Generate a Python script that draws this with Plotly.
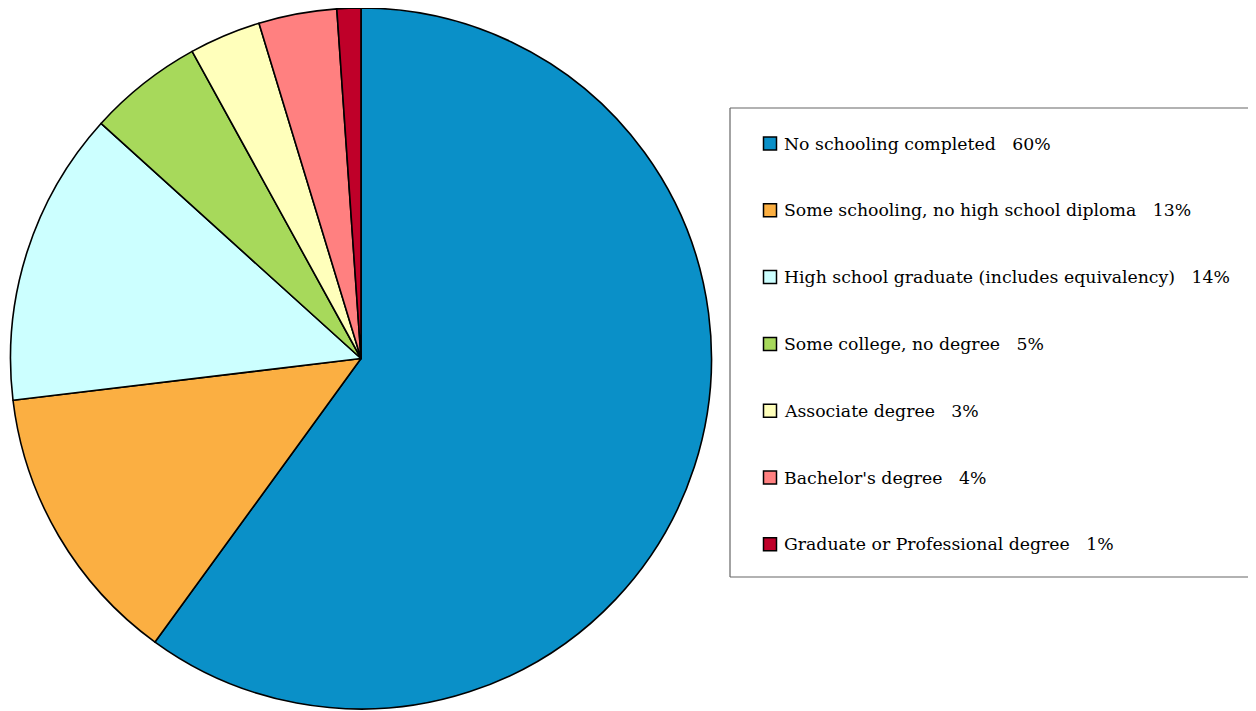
import plotly.graph_objects as go

W, H = 1256, 711

categories = [
    "No schooling completed",
    "Some schooling, no high school diploma",
    "High school graduate (includes equivalency)",
    "Some college, no degree",
    "Associate degree",
    "Bachelor's degree",
    "Graduate or Professional degree",
]
values = [60.0, 13.1, 13.6, 5.3, 3.3, 3.6, 1.1]
pct_labels = ["60%", "13%", "14%", "5%", "3%", "4%", "1%"]
colors = ["#0A90C8", "#FBAF42", "#CCFFFF", "#A7D95B", "#FFFFBB", "#FF8080", "#BF0029"]

# pie geometry (figure pixels; page adds an 8px body margin)
cx, cy, r = 353, 350.5, 350.5

fig = go.Figure()
fig.add_trace(go.Pie(
    labels=categories,
    values=values,
    sort=False,
    direction="clockwise",
    rotation=0,
    textinfo="none",
    hoverinfo="label+percent",
    marker=dict(colors=colors, line=dict(color="#000000", width=1.6)),
    domain=dict(x=[(cx - r) / W, (cx + r) / W],
                y=[max(0, (H - cy - r) / H), min(1, (H - cy + r) / H)]),
    showlegend=False,
))

shapes = []
annotations = []
# legend frame: three sides, right side runs off the page
lx0, ly0, ly1 = 722 / W, 1 - 100 / H, 1 - 569 / H
frame = dict(color="#666666", width=1.2)
shapes.append(dict(type="line", xref="paper", yref="paper", x0=lx0, x1=1.0, y0=ly0, y1=ly0, line=frame, layer="above"))
shapes.append(dict(type="line", xref="paper", yref="paper", x0=lx0, x1=1.0, y0=ly1, y1=ly1, line=frame, layer="above"))
shapes.append(dict(type="line", xref="paper", yref="paper", x0=lx0, x1=lx0, y0=ly0, y1=ly1, line=frame, layer="above"))
y_first, y_step = 135.5, 66.8
for i, (cat, pct, col) in enumerate(zip(categories, pct_labels, colors)):
    yc = y_first + i * y_step
    shapes.append(dict(type="rect", xref="paper", yref="paper",
                       x0=755.5 / W, x1=768.5 / W, y0=1 - (yc + 6.5) / H, y1=1 - (yc - 6.5) / H,
                       line=dict(color="#000000", width=1.5), fillcolor=col, layer="above"))
    annotations.append(dict(xref="paper", yref="paper", x=774 / W, y=1 - yc / H,
                            xanchor="left", yanchor="middle", showarrow=False,
                            text=cat + "\u00a0\u00a0\u00a0" + pct,
                            font=dict(family="DejaVu Serif", size=17.3, color="#000000")))

fig.update_layout(
    width=W, height=H,
    margin=dict(l=0, r=0, t=0, b=0),
    paper_bgcolor="#FFFFFF",
    plot_bgcolor="#FFFFFF",
    shapes=shapes,
    annotations=annotations,
)

fig.write_html("out.html")
